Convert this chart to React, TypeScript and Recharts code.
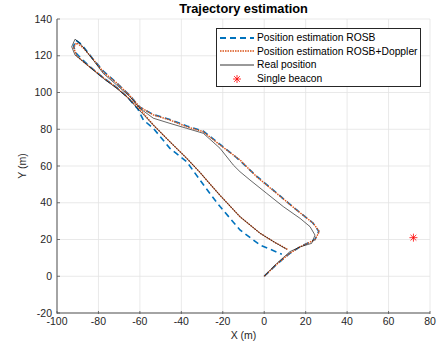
import { ComposedChart, Line, Scatter, XAxis, YAxis, CartesianGrid, Legend } from "recharts";

const FONT = '"Liberation Sans", Arial, Helvetica, sans-serif';

const xTicks = [-100, -80, -60, -40, -20, 0, 20, 40, 60, 80];
const yTicks = [-20, 0, 20, 40, 60, 80, 100, 120, 140];

// ROSB estimate (blue dashed)
const rosbX = [0, 6, 12.4, 17.3, 24.5, 26.3, 23.5, 15.5, 6, -3.7, -13.3, -21.3, -29.5, -37.4, -45.5, -53.5, -60,
  -65, -71, -77.5, -82.5, -88, -91, -92, -90.5, -86.5, -82, -77, -71, -66, -61,
  -58.3, -53.5, -45.5, -37.4, -31, -26.2, -21.3, -11.7, -2, 8.5];
const rosbY = [0, 6.5, 12.5, 16, 20, 24.5, 29, 36.2, 45.3, 54.5, 64.5, 71.8, 79, 81.8, 85.3, 88, 92,
  98.5, 105, 111.5, 118, 126, 128.5, 125, 121, 116.5, 112, 107.5, 102.5, 97.5, 91,
  85, 80.5, 69.6, 62.3, 52.4, 45, 37.9, 25.2, 17, 12];

// ROSB + Doppler estimate (orange dotted)
const dopplerX = [0, 6, 12.4, 17.3, 24.5, 26.6, 23.7, 15.7, 6, -3.7, -11.7, -21.3, -29.5, -37.4, -45.5, -53.5, -60,
  -65, -71, -77.5, -82.5, -87.5, -90.5, -92, -90.5, -86.5, -82, -77, -71, -66, -60,
  -53.5, -45.5, -37.4, -31, -26, -21.3, -11.7, -2, 5, 11.5];
const dopplerY = [0, 6.5, 12.5, 16, 19.9, 24.3, 28.8, 36, 45.1, 54.2, 63.3, 71.4, 78.7, 81.4, 85, 87.8, 92,
  98.5, 105, 111, 118, 124.5, 127, 124.5, 120, 116, 112, 107.5, 102.5, 97.5, 91,
  82.3, 73.2, 64.2, 56.5, 50, 44, 32.4, 23.4, 18.5, 14.5];

// real trajectory (black)
const realX = [0, 6, 12.4, 17.3, 22.9, 24.5, 22.1, 17.3, 9.2, 1.2, -6.9, -11.7, -14.9, -21.3, -29.4, -37.4, -45.5, -53.5, -60,
  -64.8, -71.2, -77.7, -82.5, -88.9, -91.3, -92.9, -91.3, -87.3, -82.5, -77.7, -71.2, -66.4, -60,
  -53.5, -45.5, -37.4, -31, -26, -21.3, -11.7, -2, 5, 10.8];
const realY = [0, 6.9, 13.4, 16, 17.9, 22.4, 27, 31.5, 37.9, 45.1, 52.4, 56.9, 60.5, 69.6, 77.8, 80.5, 83.2, 86, 91.4,
  97.7, 104.1, 110.4, 117.7, 126.8, 129, 124.9, 120.4, 116.8, 112.2, 107.7, 102.3, 97.7, 90,
  82.3, 73.2, 64.2, 56.5, 50, 44, 32.4, 23.4, 18.5, 14.7];

const beaconX = [72];
const beaconY = [21];

const zip = (xs: number[], ys: number[]) => xs.map((x, i) => ({ x, y: ys[i] }));

const rosb = zip(rosbX, rosbY);
const doppler = zip(dopplerX, dopplerY);
const real = zip(realX, realY);
const beacon = zip(beaconX, beaconY);

const BLUE = "#0072BD";
const ORANGE = "#D95319";
const AXIS = "#555555";

function Star({ cx, cy }: any) {
  const r = 4;
  const d = r * 0.72;
  return (
    <g stroke="#ff0000" strokeWidth={0.8}>
      <line x1={cx - r} y1={cy} x2={cx + r} y2={cy} />
      <line x1={cx} y1={cy - r} x2={cx} y2={cy + r} />
      <line x1={cx - d} y1={cy - d} x2={cx + d} y2={cy + d} />
      <line x1={cx - d} y1={cy + d} x2={cx + d} y2={cy - d} />
    </g>
  );
}

function XTick({ x, y, payload }: any) {
  return (
    <g>
      <line x1={x} x2={x} y1={y - 4} y2={y - 7} stroke={AXIS} strokeWidth={0.8} />
      <text x={x} y={y} dy="0.71em" textAnchor="middle" fontSize={10.5} fill="#262626" fontFamily={FONT}>
        {payload.value}
      </text>
    </g>
  );
}

function YTick({ x, y, payload }: any) {
  return (
    <g>
      <line x1={x + 5} x2={x + 8} y1={y} y2={y} stroke={AXIS} strokeWidth={0.8} />
      <text x={x} y={y} dy="0.355em" textAnchor="end" fontSize={10.5} fill="#262626" fontFamily={FONT}>
        {payload.value}
      </text>
    </g>
  );
}

function LegendBox() {
  const rows = [
    { label: "Position estimation ROSB", kind: "dash" },
    { label: "Position estimation ROSB+Doppler", kind: "dot" },
    { label: "Real position", kind: "solid" },
    { label: "Single beacon", kind: "star" },
  ];
  return (
    <div
      style={{
        border: "1px solid #262626",
        background: "#fff",
        width: 205,
        height: 59,
        boxSizing: "border-box",
        paddingTop: 2,
        fontFamily: FONT,
        fontSize: 10.3,
        color: "#000",
      }}
    >
      {rows.map((r) => (
        <div key={r.label} style={{ display: "flex", alignItems: "center", height: 13.6 }}>
          <svg width={40} height={10} style={{ flex: "none" }}>
            {r.kind === "dash" && (
              <line x1={3} x2={37} y1={5} y2={5} stroke={BLUE} strokeWidth={2} strokeDasharray="6 4" />
            )}
            {r.kind === "dot" && (
              <line x1={3} x2={37} y1={5} y2={5} stroke={ORANGE} strokeWidth={1.5} strokeDasharray="1.5 1" />
            )}
            {r.kind === "solid" && <line x1={3} x2={37} y1={5} y2={5} stroke="#000" strokeWidth={0.8} />}
            {r.kind === "star" && <Star cx={20} cy={5} />}
          </svg>
          <span style={{ whiteSpace: "nowrap" }}>{r.label}</span>
        </div>
      ))}
    </div>
  );
}

export default function App() {
  return (
    <div style={{ position: "absolute", left: 0, top: 0, width: 439, height: 354, background: "#fff" }}>
      <div
        style={{
          position: "absolute",
          left: 57,
          width: 373,
          top: 1,
          textAlign: "center",
          fontFamily: FONT,
          fontWeight: "bold",
          fontSize: 12.8,
          color: "#000",
        }}
      >
        Trajectory estimation
      </div>
      <ComposedChart width={439} height={354} margin={{ top: 19, right: 9, bottom: 0, left: 0 }}>
        <CartesianGrid stroke="#e3e3e3" strokeWidth={0.8} />
        <XAxis
          type="number"
          dataKey="x"
          domain={[-100, 80]}
          ticks={xTicks}
          interval={0}
          height={41}
          stroke={AXIS}
          tickLine={false}
          tickSize={5}
          tickMargin={0}
          tick={<XTick />}
          allowDuplicatedCategory={false}
          label={{ value: "X (m)", position: "insideBottom", offset: 15, fontSize: 10.5, fill: "#262626", fontFamily: FONT }}
        />
        <YAxis
          type="number"
          dataKey="y"
          domain={[-20, 140]}
          ticks={yTicks}
          interval={0}
          width={57}
          stroke={AXIS}
          tickLine={false}
          tickSize={5}
          tickMargin={0}
          tick={<YTick />}
          label={{ value: "Y (m)", angle: -90, position: "insideLeft", offset: 22, fontSize: 10.5, fill: "#262626", fontFamily: FONT, style: { textAnchor: "middle" } }}
        />
        <Legend
          verticalAlign="middle"
          align="center"
          layout="vertical"
          wrapperStyle={{ position: "absolute", top: 28, left: 216, width: 205 }}
          content={<LegendBox />}
        />
        <Line data={rosb} dataKey="y" type="linear" stroke={BLUE} strokeWidth={1.6} strokeDasharray="6 4" dot={false} isAnimationActive={false} />
        <Line data={doppler} dataKey="y" type="linear" stroke={ORANGE} strokeWidth={1.4} strokeDasharray="1.5 1" dot={false} isAnimationActive={false} />
        <Line data={real} dataKey="y" type="linear" stroke="#000" strokeWidth={0.6} dot={false} isAnimationActive={false} />
        <Scatter data={beacon} dataKey="y" shape={<Star />} isAnimationActive={false} />
      </ComposedChart>
    </div>
  );
}
